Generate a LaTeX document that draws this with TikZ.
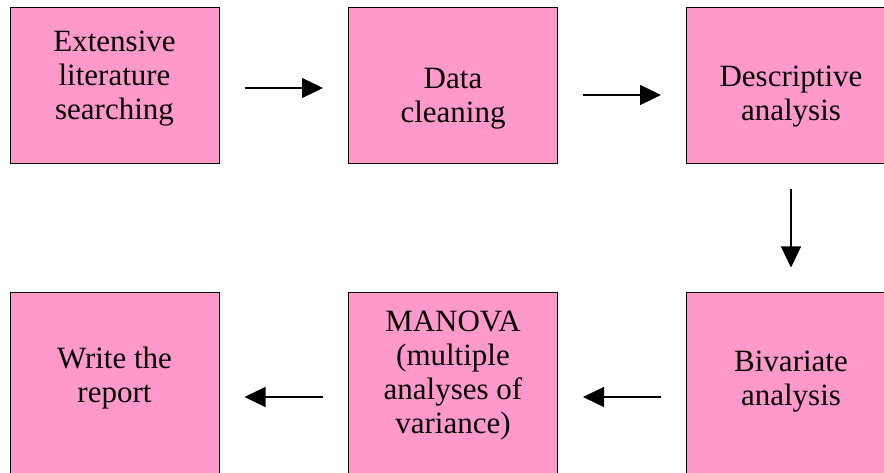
\documentclass[tikz,border=0pt]{standalone}
\usepackage{fontspec}
\setmainfont{LiberationSerif}[Extension=.ttf,UprightFont=*-Regular,BoldFont=*-Bold,ItalicFont=*-Italic,BoldItalicFont=*-BoldItalic]
\usetikzlibrary{arrows.meta,positioning}
\definecolor{boxpink}{RGB}{255,153,204}

\begin{document}
\begin{tikzpicture}[x=1pt,y=1pt,
  stage/.style={draw=black,line width=1pt,fill=boxpink,minimum width=209pt,minimum height=156pt,inner sep=0pt},
  lowstage/.style={stage,minimum height=200pt},
  stagetext/.style={align=center,font=\rmfamily\fontsize{31}{34}\selectfont,inner sep=0pt},
  flow/.style={-{Triangle[length=21pt,width=20pt]},line width=1.2pt,shorten <=25pt,shorten >=25pt}]
\clip (0,0) rectangle (884,473);
% top row
\node[stage] (lit) at (114.5,387) {};
\node[stage] (clean) at (453,387) {};
\node[stage] (desc) at (791,387) {};
\node[stagetext] (littext) at (114.5,394) {Extensive\\literature\\searching};
\node[stagetext] (cleantext) at (453,374.5) {Data\\cleaning};
\node[stagetext] (desctext) at (791,376.5) {Descriptive\\analysis};
% bottom row
\node[lowstage] (report) at (114.5,80) {};
\node[lowstage] (manova) at (453,80) {};
\node[lowstage] (bivar) at (791,80) {};
\node[stagetext] (reporttext) at (114.5,95) {Write the\\report};
\node[stagetext] (manovatext) at (453,97) {MANOVA\\(multiple\\analyses of\\variance)};
\node[stagetext] (bivartext) at (791,91.5) {Bivariate\\analysis};
% arrows
\draw[flow] ([yshift=-2pt]lit.east) -- ([yshift=-2pt]clean.west);
\draw[flow] ([yshift=-9pt]clean.east) -- ([yshift=-9pt]desc.west);
\draw[flow] (desc.south) -- (desc.south |- bivar.north);
\draw[flow] ([yshift=-4pt]bivar.west) -- ([yshift=-4pt]manova.east);
\draw[flow] ([yshift=-4pt]manova.west) -- ([yshift=-4pt]report.east);
\end{tikzpicture}
\end{document}
